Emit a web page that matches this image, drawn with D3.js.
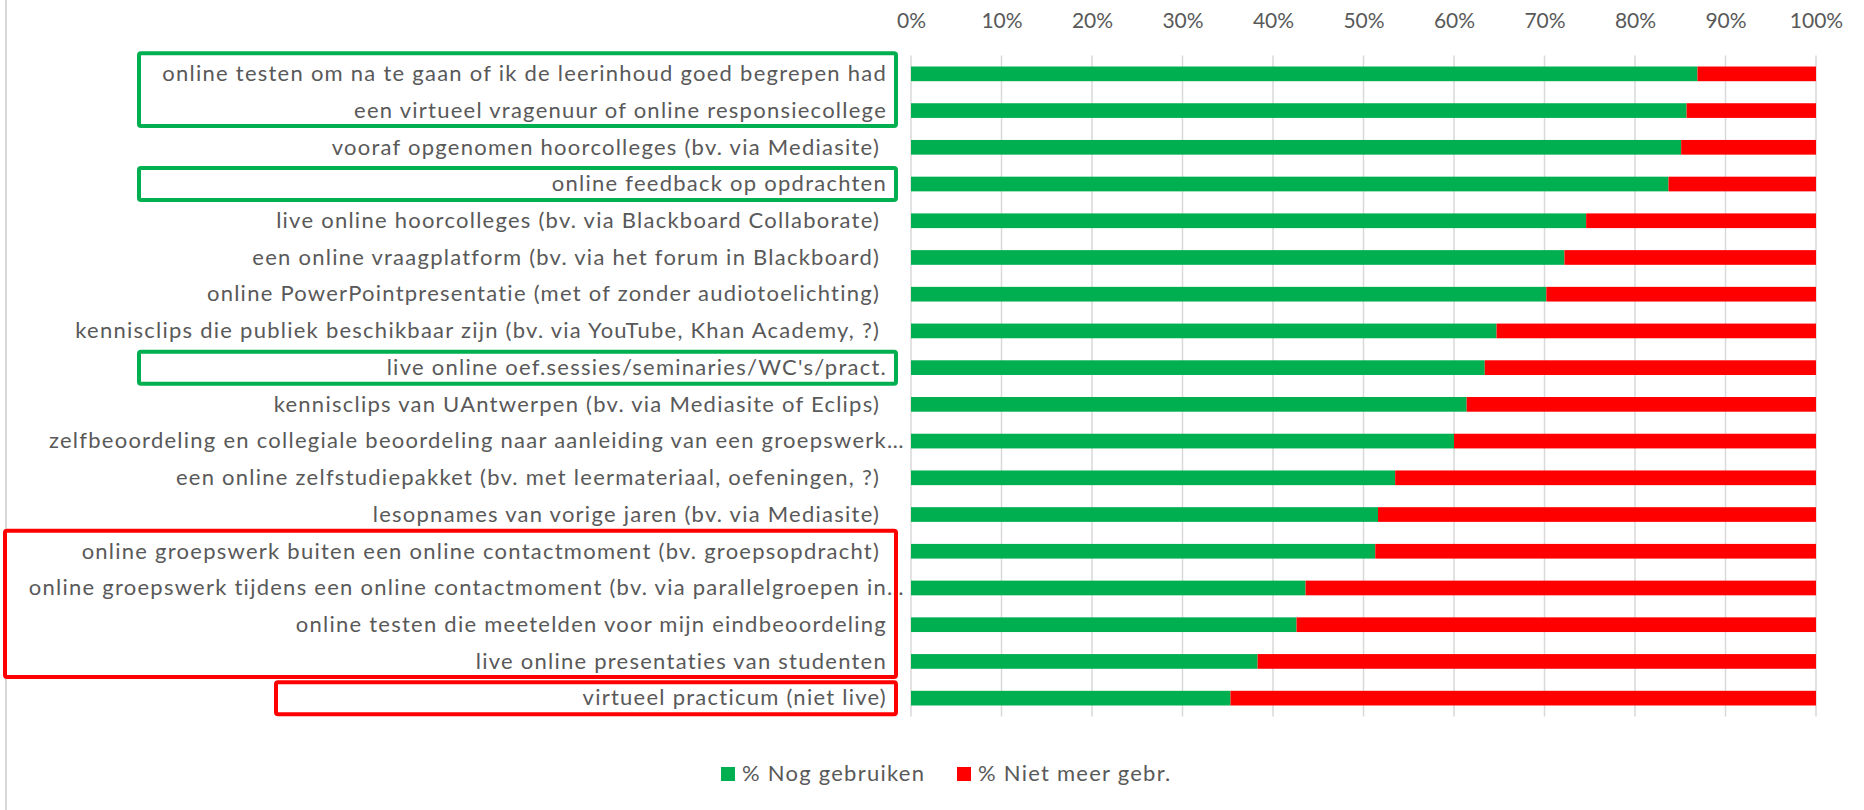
<!DOCTYPE html>
<html>
<head>
<meta charset="utf-8">
<script src="https://cdn.jsdelivr.net/npm/d3@7"></script>
<style>
  html, body { margin: 0; padding: 0; background: #fff; }
  svg text { font-family: Lato, "Open Sans", sans-serif; fill: #595959; white-space: pre; }
</style>
</head>
<body>
<div id="chart"></div>
<script>
// categorieën (van boven naar onder), trailing spaces zoals in de bron
var categories = [
  "online testen om na te gaan of ik de leerinhoud goed begrepen had",
  "een virtueel vragenuur of online responsiecollege",
  "vooraf opgenomen hoorcolleges (bv. via Mediasite) ",
  "online feedback op opdrachten",
  "live online hoorcolleges (bv. via Blackboard Collaborate) ",
  "een online vraagplatform (bv. via het forum in Blackboard) ",
  "online PowerPointpresentatie (met of zonder audiotoelichting) ",
  "kennisclips die publiek beschikbaar zijn (bv. via YouTube, Khan Academy, ?) ",
  "live online oef.sessies/seminaries/WC's/pract.",
  "kennisclips van UAntwerpen (bv. via Mediasite of Eclips) ",
  "zelfbeoordeling en collegiale beoordeling naar aanleiding van een groepswerk…",
  "een online zelfstudiepakket (bv. met leermateriaal, oefeningen, ?) ",
  "lesopnames van vorige jaren (bv. via Mediasite) ",
  "online groepswerk buiten een online contactmoment (bv. groepsopdracht) ",
  "online groepswerk tijdens een online contactmoment (bv. via parallelgroepen in…",
  "online testen die meetelden voor mijn eindbeoordeling",
  "live online presentaties van studenten",
  "virtueel practicum (niet live)"
];
var nogGebruiken = [86.9, 85.7, 85.1, 83.7, 74.6, 72.2, 70.2, 64.7, 63.4, 61.4, 60.0, 53.5, 51.6, 51.3, 43.6, 42.6, 38.3, 35.3];
var nietMeer     = [13.1, 14.3, 14.9, 16.3, 25.4, 27.8, 29.8, 35.3, 36.6, 38.6, 40.0, 46.5, 48.4, 48.7, 56.4, 57.4, 61.7, 64.7];
var seriesNames = ["% Nog gebruiken", "% Niet meer gebr."];
var tickValues = [0, 0.1, 0.2, 0.3, 0.4, 0.5, 0.6, 0.7, 0.8, 0.9, 1];

// markeringen: [eerste rij, laatste rij, kleur]
var highlights = [
  { from: 0, to: 1, color: "#00B050" },
  { from: 3, to: 3, color: "#00B050" },
  { from: 8, to: 8, color: "#00B050" },
  { from: 13, to: 16, color: "#FF0000" },
  { from: 17, to: 17, color: "#FF0000" }
];

var W = 1864, H = 810;
var colors = ["#00B050", "#FF0000"];
var plot = { left: 911, right: 1816, top: 55.5, bottom: 716.5 };
var labelRight = 887;
var boxLeft = [139, 139, 139, 5, 276];
var textSize = "22px", spacing = "1.25px";

var svg = d3.select("#chart").append("svg")
  .attr("width", W).attr("height", H);

// linker rand van het grafiekgebied
svg.append("line")
  .attr("x1", 6).attr("x2", 6).attr("y1", 0).attr("y2", H)
  .attr("stroke", "#D9D9D9").attr("stroke-width", 2);

var x = d3.scaleLinear().domain([0, 1]).range([plot.left, plot.right]);
var y = d3.scaleBand().domain(categories).range([plot.top, plot.bottom])
  .paddingInner(0.6).paddingOuter(0.3);

var rows = categories.map(function(c, i) {
  return { cat: c, nog: nogGebruiken[i], niet: nietMeer[i] };
});
var stack = d3.stack().keys(["nog", "niet"]).offset(d3.stackOffsetExpand);
var stacked = stack(rows);

// rasterlijnen
svg.append("g").selectAll("line")
  .data(tickValues).join("line")
  .attr("x1", function(d) { return x(d); }).attr("x2", function(d) { return x(d); })
  .attr("y1", plot.top).attr("y2", plot.bottom)
  .attr("stroke", "#D9D9D9").attr("stroke-width", 1.5);

// as bovenaan
var axis = svg.append("g")
  .attr("transform", "translate(0,21)")
  .call(d3.axisTop(x).tickValues(tickValues).tickFormat(d3.format(".0%")).tickSize(0).tickPadding(0));
axis.select(".domain").remove();
axis.selectAll("text")
  .attr("dy", "0.35em")
  .style("font-size", "21px")
  .style("font-family", "Lato, sans-serif")
  .attr("fill", "#595959");

// balken
svg.append("g").selectAll("g")
  .data(stacked).join("g")
  .attr("fill", function(d, i) { return colors[i]; })
  .selectAll("rect")
  .data(function(d) { return d; }).join("rect")
  .attr("x", function(d) { return x(d[0]); })
  .attr("width", function(d) { return x(d[1]) - x(d[0]); })
  .attr("y", function(d) { return y(d.data.cat); })
  .attr("height", y.bandwidth());

// categorielabels
var labels = svg.append("g").selectAll("text")
  .data(categories).join("text")
  .attr("y", function(d) { return y(d) + y.bandwidth() / 2; })
  .attr("dy", "0.33em")
  .attr("text-anchor", "end")
  .style("font-size", textSize)
  .style("letter-spacing", spacing)
  .text(function(d) { return d; });

// afgekapte labels lopen met het beletselteken voorbij de rand
var ell = svg.append("text").style("font-size", textSize).style("letter-spacing", spacing).text("…");
var ellW = ell.node().getComputedTextLength();
ell.remove();
labels.attr("x", function(d) {
  return d.slice(-1) === "…" ? labelRight + ellW : labelRight;
});

// kaders
svg.append("g").selectAll("rect")
  .data(highlights).join("rect")
  .attr("x", function(d, i) { return boxLeft[i]; })
  .attr("y", function(d) {
    var c = y(categories[d.from]) + y.bandwidth() / 2;
    return c - (d.to > d.from ? 20.5 : 16);
  })
  .attr("width", function(d, i) { return 896 - boxLeft[i]; })
  .attr("height", function(d) {
    var c0 = y(categories[d.from]) + y.bandwidth() / 2;
    var c1 = y(categories[d.to]) + y.bandwidth() / 2;
    return (c1 - c0) + (d.to > d.from ? 36 : 32);
  })
  .attr("rx", 2)
  .attr("fill", "none")
  .attr("stroke", function(d) { return d.color; })
  .attr("stroke-width", 4);

// legenda
var legendX = [721, 957];
var legend = svg.append("g").selectAll("g")
  .data(seriesNames).join("g")
  .attr("transform", function(d, i) { return "translate(" + legendX[i] + ",774)"; });
legend.append("rect")
  .attr("x", 0).attr("y", -7).attr("width", 14).attr("height", 14)
  .attr("fill", function(d, i) { return colors[i]; });
legend.append("text")
  .attr("x", 21).attr("dy", "0.33em")
  .style("font-size", textSize)
  .style("letter-spacing", spacing)
  .text(function(d) { return d; });
</script>
</body>
</html>
